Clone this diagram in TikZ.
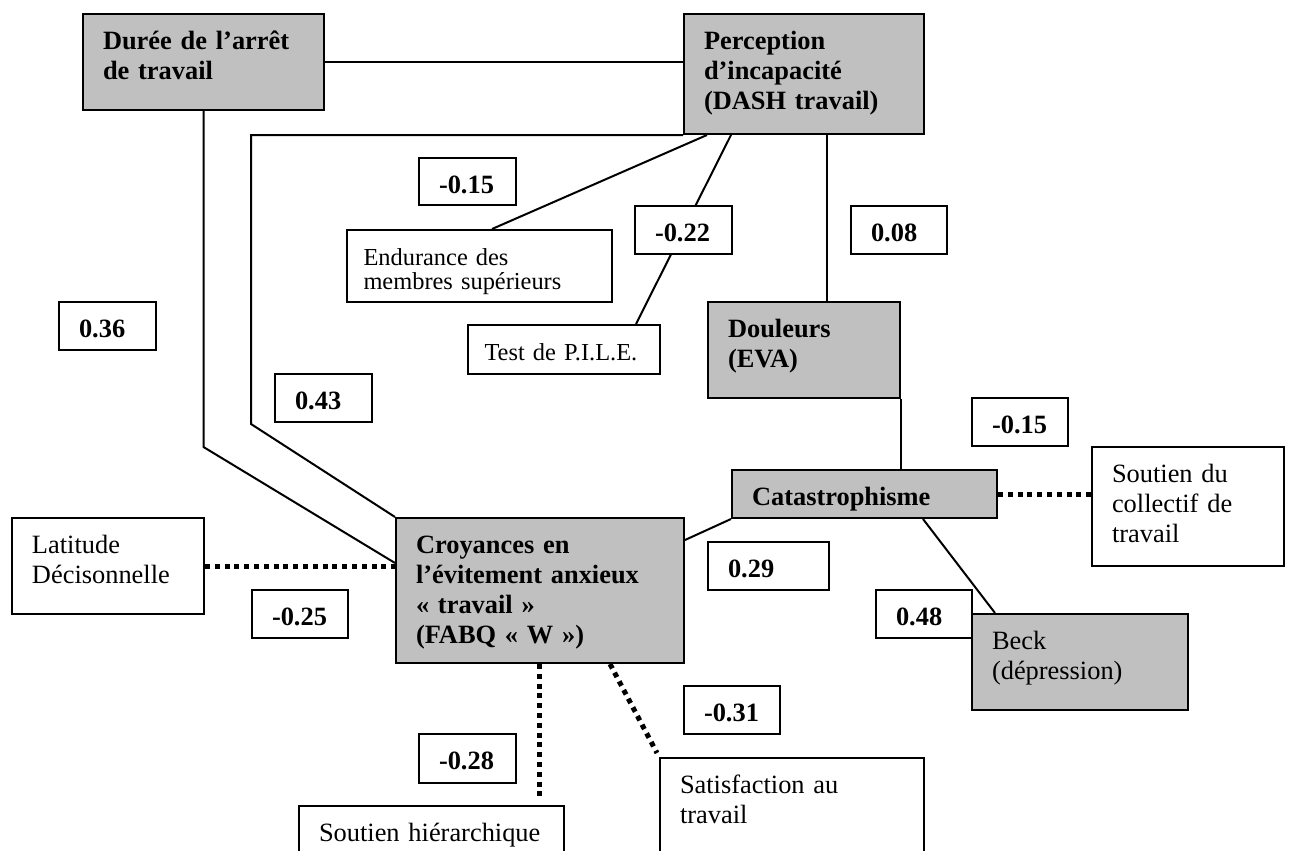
\documentclass[tikz,border=0pt]{standalone}
\usepackage{fontspec}
\setmainfont{Liberation Serif}
\usetikzlibrary{calc,backgrounds}
\definecolor{gris}{HTML}{C0C0C0}
\begin{document}
\begin{tikzpicture}[x=0.5pt,y=-0.5pt,
  boite/.style 2 args={draw,line width=1pt,anchor=north west,inner xsep=10pt,inner ysep=0pt,align=left,
    text width={#1*0.5pt-2*\pgfkeysvalueof{/pgf/inner xsep}},text height=17.5pt,text depth={#2*0.5pt-17.5pt},
    font=\fontsize{13.2pt}{15pt}\selectfont},
  grise/.style={fill=gris,font=\fontsize{13.2pt}{15pt}\selectfont\bfseries},
  coef/.style={fill=white,font=\fontsize{13.2pt}{15pt}\selectfont\bfseries},
  petit/.style={fill=white,inner xsep=8.25pt,font=\fontsize{12.2pt}{12pt}\selectfont},
  lien/.style={line width=1pt},
  pointille/.style={line width=2.5pt,dash pattern=on 2.5pt off 2.4pt}]
\useasboundingbox (0,0) rectangle (1291,851);
\clip (0,0) rectangle (1291,851);
% variables
\node[boite={241}{96},grise] (Duree) at (82,13) {Durée de l’arrêt\\de travail};
\node[boite={240}{120},grise] (Perception) at (683,13) {Perception\\d’incapacité\\(DASH travail)};
\node[boite={192}{96},grise] (Douleurs) at (707,301) {Douleurs\\(EVA)};
\node[boite={265}{48},grise] (Catastrophisme) at (731,469) {Catastrophisme};
\node[boite={288}{145},grise] (Croyances) at (395,517) {Croyances en\\l’évitement anxieux\\«~travail~»\\(FABQ «~W~»)};
\node[boite={216}{96},fill=gris] (Beck) at (971,613) {Beck\\(dépression)};
\node[boite={192}{96},fill=white] (Latitude) at (11,517) {Latitude\\Décisonnelle};
\node[boite={192}{119},fill=white] (Collectif) at (1091,446) {Soutien du\\collectif de\\travail};
\node[boite={265}{72},petit] (Endurance) at (346,229) {Endurance des\\membres supérieurs};
\node[boite={192}{49},petit] (Pile) at (467,324) {Test~de~P.I.L.E.};
\node[boite={265}{90},fill=white] (Hierarchique) at (298,805) {Soutien hiérarchique};
\node[boite={264}{120},fill=white] (Satisfaction) at (659,757) {Satisfaction au\\travail};
% coefficients
\node[boite={97}{47},coef] (cEndurance) at (418,157) {-0.15};
\node[boite={97}{48},coef] (cPile) at (634,205) {-0.22};
\node[boite={96}{48},coef] (cDouleurs) at (850,205) {0.08};
\node[boite={97}{48},coef] (cDuree) at (58,301) {0.36};
\node[boite={97}{48},coef] (cPerception) at (274,373) {0.43};
\node[boite={96}{48},coef] (cCollectif) at (971,397) {-0.15};
\node[boite={121}{48},coef] (cCatastrophisme) at (707,541) {0.29};
\node[boite={96}{48},coef] (cBeck) at (875,589) {0.48};
\node[boite={96}{48},coef] (cLatitude) at (251,589) {-0.25};
\node[boite={96}{48},coef] (cSatisfaction) at (683,685) {-0.31};
\node[boite={97}{49},coef] (cHierarchique) at (418,733) {-0.28};
% liens
\begin{scope}[on background layer]
\coordinate (pD) at ($(Perception.south west)+(144,0)$);
\coordinate (cH) at ($(Croyances.south west)+(144,0)$);
\draw[lien] (Duree.east) -- (Duree.east -| Perception.west);
\draw[lien] (Duree.south) -- ++(0,336) -- ($(Croyances.north west)+(0,46)$);
\draw[lien] (Perception.south west) -- ++(-432,0) -- ++(0,289) -- (Croyances.north west);
\draw[lien] ($(Perception.south west)+(24,0)$) -- ($(Endurance.north west)+(146,0)$);
\draw[lien] ($(Perception.south west)+(48,0)$) -- ($(Pile.north west)+(169,0)$);
\draw[lien] (pD) -- (pD |- Douleurs.north);
\draw[lien] (Douleurs.south east) -- (Douleurs.south east |- Catastrophisme.north);
\draw[lien] (Catastrophisme.south west) -- ($(Croyances.north east)+(0,23)$);
\draw[lien] ($(Catastrophisme.south west)+(192,0)$) -- ($(Beck.north west)+(24,0)$);
\draw[pointille] (Catastrophisme.east) -- (Catastrophisme.east -| Collectif.west);
\draw[pointille] (Latitude.east) -- (Latitude.east -| Croyances.west);
\draw[pointille] (cH) -- ($(cH |- Hierarchique.north)+(0,-6)$);
\draw[pointille] ($(Croyances.south west)+(215,0)$) -- ($(Satisfaction.north west)+(-2,-4)$);
\end{scope}
\end{tikzpicture}
\end{document}
